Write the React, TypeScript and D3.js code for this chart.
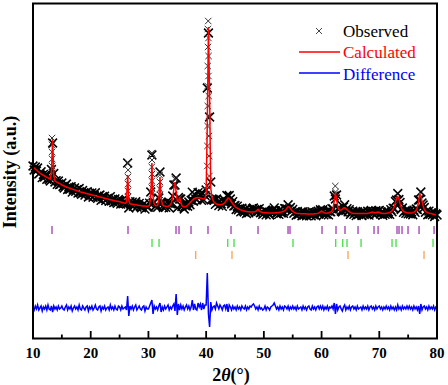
import React from "react";
import * as d3 from "d3";

// Scan: 2θ from 10° to 80° in 0.2° steps (instrument sampling)
const START = 10;
const STEP = 0.2;

// Calculated profile (a.u.), one value per 0.2° step
const calculated: number[] = [
  171, 170, 169, 168, 167, 166, 165, 164.2, 163.4, 162.6, 162, 161.3, 160.7, 160.1, 159.5, 159, 166.5, 199, 162.5, 157, 156.3, 155.6, 155, 154.4, 153.8,
  153, 152.5, 152, 151.5, 151, 150.5, 150.1, 149.7, 149.3, 148.9, 148.5, 148.1, 147.7, 147.3, 146.9, 146.5, 146.1, 145.8, 145.5, 145.2, 144.9, 144.6, 144.3, 144, 143.7,
  143.4, 143.1, 142.8, 142.5, 142.2, 141.9, 141.6, 141.3, 141, 140.7, 140.4, 140.1, 139.8, 139.5, 139.2, 138.9, 138.6, 138.3, 138, 137.7, 137.4, 137.1, 136.9, 136.7, 136.5,
  136.2, 135.9, 135.6, 135.3, 135, 134.8, 136, 163, 138, 134.2, 134, 133.8, 133.6, 133.4, 133.2, 133, 132.8, 132.6, 132.4, 132.2, 132.1, 132, 131.9, 131.8, 131.8,
  131.9, 132.8, 141, 175, 141, 134, 132.5, 132.2, 132.8, 138, 161, 140, 134, 132.4, 131.9, 131.6, 131.5, 131.7, 132.2, 133.2, 135.5, 140, 149, 156, 146,
  137, 136.5, 141, 136, 132.5, 131.3, 131, 131.2, 131.8, 132.8, 134, 135.3, 136.6, 137.8, 138.8, 139.5, 140, 140.3, 140.4, 140.3, 140, 139.6, 139.2, 139, 139.5,
  145, 215, 311, 240, 150, 141, 137.5, 135.7, 134.6, 134, 133.6, 133.4, 133.3, 133.4, 133.7, 134.2, 135, 136.5, 138.5, 140, 139.5, 138, 136, 134.3, 133,
  131.5, 130.5, 129.8, 129.2, 128.6, 128.1, 127.7, 127.3, 127, 126.7, 126.5, 126.3, 126.2, 126.1, 126, 126, 126, 126.2, 126.6, 127.6, 128.6, 127.4, 126.3, 125.8, 125.6,
  125.4, 125.3, 125.2, 125.1, 125, 125, 125, 125, 125, 125.1, 125.2, 125.3, 125.4, 125.6, 125.8, 126, 126.3, 126.7, 127.3, 128.3, 130, 131.2, 131, 129.5, 127.8,
  126.6, 125.8, 125.2, 124.8, 124.6, 124.5, 124.4, 124.3, 124.3, 124.2, 124.2, 124.2, 124.1, 124.1, 124.1, 124.1, 124.1, 124.1, 124.1, 124.2, 124.3, 124.5, 124.8, 125.3, 126.2,
  127, 126.2, 125.2, 124.9, 124.8, 124.9, 125.1, 125.5, 126.2, 127.3, 130, 137, 145, 139, 131.5, 128.5, 127.6, 128, 129, 130, 130.2, 129.5, 128.3, 127.2, 126.3,
  125.6, 125.1, 124.8, 124.6, 124.5, 124.4, 124.4, 124.4, 124.5, 124.5, 124.5, 124.5, 124.5, 124.5, 124.6, 124.7, 124.9, 125.2, 125.6, 126, 125.6, 125.2, 125.3, 125.7, 126,
  125.6, 125, 124.7, 124.6, 124.6, 124.6, 124.7, 124.9, 125.2, 125.6, 126.3, 127.3, 128.8, 131.5, 135.5, 140, 141.5, 139.5, 134.5, 130.5, 128, 126.7, 126, 125.6, 125.3,
  125.1, 125, 125, 125.1, 125.3, 125.8, 126.6, 128, 130.5, 136, 144, 142, 137, 132, 128.5, 126.8, 125.9, 125.3, 124.9, 124.6, 124.4, 124.1, 123.8, 123.5, 123.2,
  123,
];

// Difference (observed − calculated), same steps
const difference: number[] = [
  1, -2, 2, -1, 3, -2, 0, 2, -3, 1, -1, 2, -2, 3, -1, -2, 2, -4, 2, -1, 1, -2, 2, -1, 0,
  2, -1, -2, 1, 3, -2, 1, -1, 2, -3, 0, 2, -1, 1, -2, 3, -1, -2, 2, 0, -2, 1, 2, -3, 1,
  -1, 2, -2, 0, 3, -1, -2, 1, 2, -3, 1, -1, 2, -2, 0, 1, -2, 3, -1, 1, -2, 2, -1, -2, 2,
  1, -2, 2, -1, 0, 1, -2, 12, -8, 2, -1, 2, -2, 1, 3, -2, 0, 2, -1, -2, 1, 2, -3, 1, -1,
  -1, 2, 5, 8, -6, 2, -1, 1, -2, 2, 5, -4, 1, -2, 2, -1, 1, 3, -2, 1, -1, 2, 4, -3, 14,
  -7, 4, -2, 3, -1, 2, -2, 1, 3, -1, 2, -2, 1, 8, -2, 4, -1, -2, 5, 1, 4, -2, 5, -1, 3,
  3, 35, -6, -19, 6, -2, 1, 2, -1, 5, 2, -1, 3, 1, -2, 2, 3, -1, 4, -4, 3, 1, -2, 2, -1,
  1, -2, 2, -1, 1, -2, 2, 0, -1, 2, -2, 1, -1, 2, 1, 3, 4, 2, -1, 1, -2, 2, -1, 0, -2,
  -1, 2, -2, 1, 0, -2, 1, 2, 3, 5, 2, -1, 1, -2, 2, -1, 1, -2, 2, 1, -1, 2, -2, 1, -1,
  2, -1, 1, -2, 2, -1, 0, 1, -2, 2, -1, 1, -2, 1, 2, -1, -2, 2, -1, 1, -2, 1, 2, -1, 2,
  -1, 2, -2, 1, -1, 2, -2, 1, 0, 2, -1, 5, -6, 4, -2, 1, 2, -1, -3, 1, 3, -2, 1, -1, 2,
  -2, 1, 2, -1, 1, -2, 2, -1, 0, 1, -2, 2, -1, 1, -1, 2, -2, 1, 2, -1, 1, -2, 2, -1, 1,
  2, -1, 1, -2, 1, -1, 2, -1, 1, -2, 2, -1, 1, -2, 1, -2, 3, -1, 1, -2, 2, -1, 1, -1, 2,
  -1, 2, -1, 1, -2, 2, -1, 1, -2, 2, -6, 4, -2, 1, 2, -1, 1, -2, 2, -1, 1, -1, 2, -2, 1,
  0,
];

// Additional observed points on the steep sides of the sharp reflections [2θ, I]
const extraObserved: [number, number][] = [
  [13.3, 200], [13.32, 193], [13.28, 186], [13.32, 179], [13.28, 172], [13.3, 165],
  [26.44, 175], [26.48, 168], [26.44, 161], [26.48, 154], [26.44, 147], [26.48, 141],
  [30.6, 185], [30.62, 178], [30.58, 171], [30.62, 164], [30.58, 157], [30.62, 150], [30.58, 144],
  [31.96, 163], [32.0, 156], [31.96, 149], [32.0, 143],
  [34.58, 159], [34.62, 152],
  [40.36, 317], [40.3, 309], [40.4, 300], [40.32, 291], [40.42, 282], [40.28, 272], [40.4, 262],
  [40.26, 252], [40.44, 242], [40.28, 232], [40.46, 222], [40.24, 212], [40.48, 202], [40.22, 192],
  [40.52, 182], [40.2, 172], [40.56, 162], [40.16, 152],
  [62.38, 152], [62.42, 146],
];

// Bragg reflection positions (2θ) for the three phases
const phase1: number[] = [13.29, 26.46, 34.78, 35.3, 37.38, 40.32, 44.31, 48.99, 54.19, 54.53, 60.08, 62.5, 64.06, 66.32, 69.09, 69.79, 73.07, 73.42, 73.94, 74.98, 76.89, 79.49];
const phase2: number[] = [30.62, 31.84, 43.74, 44.83, 55.05, 62.45, 63.67, 64.41, 66.84, 72.21, 72.9, 79.31];
const phase3: number[] = [38.19, 44.48, 64.58, 77.75];

const majorTicks = [10, 20, 30, 40, 50, 60, 70, 80];
const minorTicks = [15, 25, 35, 45, 55, 65, 75];
const legendLabels = ["Observed", "Calculated", "Difference"];
const DIFF_OFFSET = 30;

function crossPath(points: [number, number][], x: (v: number) => number, y: (v: number) => number, s: number) {
  return points
    .map(([t, v]) => {
      const px = x(t);
      const py = y(v);
      return `M${px - s},${py - s}L${px + s},${py + s}M${px - s},${py + s}L${px + s},${py - s}`;
    })
    .join("");
}

const FONT = "Liberation Serif, Times New Roman, DejaVu Serif, serif";

export default function App() {
  const width = 448;
  const height = 385;
  const x = d3.scaleLinear().domain([10, 80]).range([33, 437]);
  const y = d3.scaleLinear().domain([0, 335]).range([338, 3]);

  const n = Math.min(calculated.length, difference.length);
  const pts = d3.range(n).map((i) => ({
    t: START + i * STEP,
    calc: calculated[i],
    diff: difference[i],
    obs: calculated[i] + difference[i],
  }));

  const calcPath = d3
    .line<{ t: number; calc: number }>()
    .x((d) => x(d.t))
    .y((d) => y(d.calc))(pts) as string;
  const diffPath = d3
    .line<{ t: number; diff: number }>()
    .x((d) => x(d.t))
    .y((d) => y(DIFF_OFFSET + d.diff))(pts) as string;

  const gridObs = pts.map((p) => [p.t, p.obs] as [number, number]);
  const obsPath = crossPath(gridObs, x, y, 4.4);
  const extraPath = crossPath(extraObserved, x, y, 3.2);

  const legendColors = ["#000", "#ff0000", "#0000ff"];
  const legendY = [37, 58, 80];

  return (
    <svg
      width={width}
      height={height}
      style={{ position: "absolute", left: 0, top: 0, background: "#fff" }}
    >
      <rect x={0} y={0} width={width} height={height} fill="#fff" />
      <path d={obsPath} stroke="#000" strokeWidth={1.5} fill="none" />
      <path d={extraPath} stroke="#333" strokeWidth={1} fill="none" />
      <path d={calcPath} stroke="#ff0000" strokeWidth={1.5} fill="none" />

      {phase1.map((t, i) => (
        <line key={"p1" + i} x1={x(t)} x2={x(t)} y1={226} y2={234} stroke="#a03cb0" strokeWidth={1.3} />
      ))}
      {phase2.map((t, i) => (
        <line key={"p2" + i} x1={x(t)} x2={x(t)} y1={239} y2={247} stroke="#3ee03e" strokeWidth={1.3} />
      ))}
      {phase3.map((t, i) => (
        <line key={"p3" + i} x1={x(t)} x2={x(t)} y1={251} y2={259} stroke="#f7a24a" strokeWidth={1.3} />
      ))}

      <path d={diffPath} stroke="#0000ff" strokeWidth={1.5} fill="none" />

      <rect x={33} y={3.5} width={404} height={335} fill="none" stroke="#000" strokeWidth={2} />

      {majorTicks.map((t) => (
        <line key={"mt" + t} x1={x(t)} x2={x(t)} y1={338.5} y2={331} stroke="#000" strokeWidth={1.8} />
      ))}
      {minorTicks.map((t) => (
        <line key={"mn" + t} x1={x(t)} x2={x(t)} y1={338.5} y2={334.5} stroke="#000" strokeWidth={1.8} />
      ))}
      <g fontFamily={FONT}>
        {majorTicks.map((t) => (
          <text key={"tl" + t} x={x(t)} y={358} textAnchor="middle" fontSize={15} fontWeight="bold">
            {t}
          </text>
        ))}

        <text x={231} y={381} textAnchor="middle" fontSize={18} fontWeight="bold">
          2<tspan fontStyle="italic">θ</tspan>(°)
        </text>
        <text
          transform="translate(16,172) rotate(-90)"
          textAnchor="middle"
          fontSize={18}
          fontWeight="bold"
        >
          Intensity (a.u.)
        </text>

        {legendLabels.map((l, i) => (
          <text key={l} x={343} y={legendY[i]} fontSize={17} fill={legendColors[i]}>
            {l}
          </text>
        ))}
      </g>

      {/* legend symbols */}
      <path d="M316,28L322,34M316,34L322,28" stroke="#444" strokeWidth={1} />
      <line x1={299} x2={340} y1={52} y2={52} stroke="#ff0000" strokeWidth={1.5} />
      <line x1={299} x2={340} y1={73} y2={73} stroke="#0000ff" strokeWidth={1.5} />
    </svg>
  );
}
